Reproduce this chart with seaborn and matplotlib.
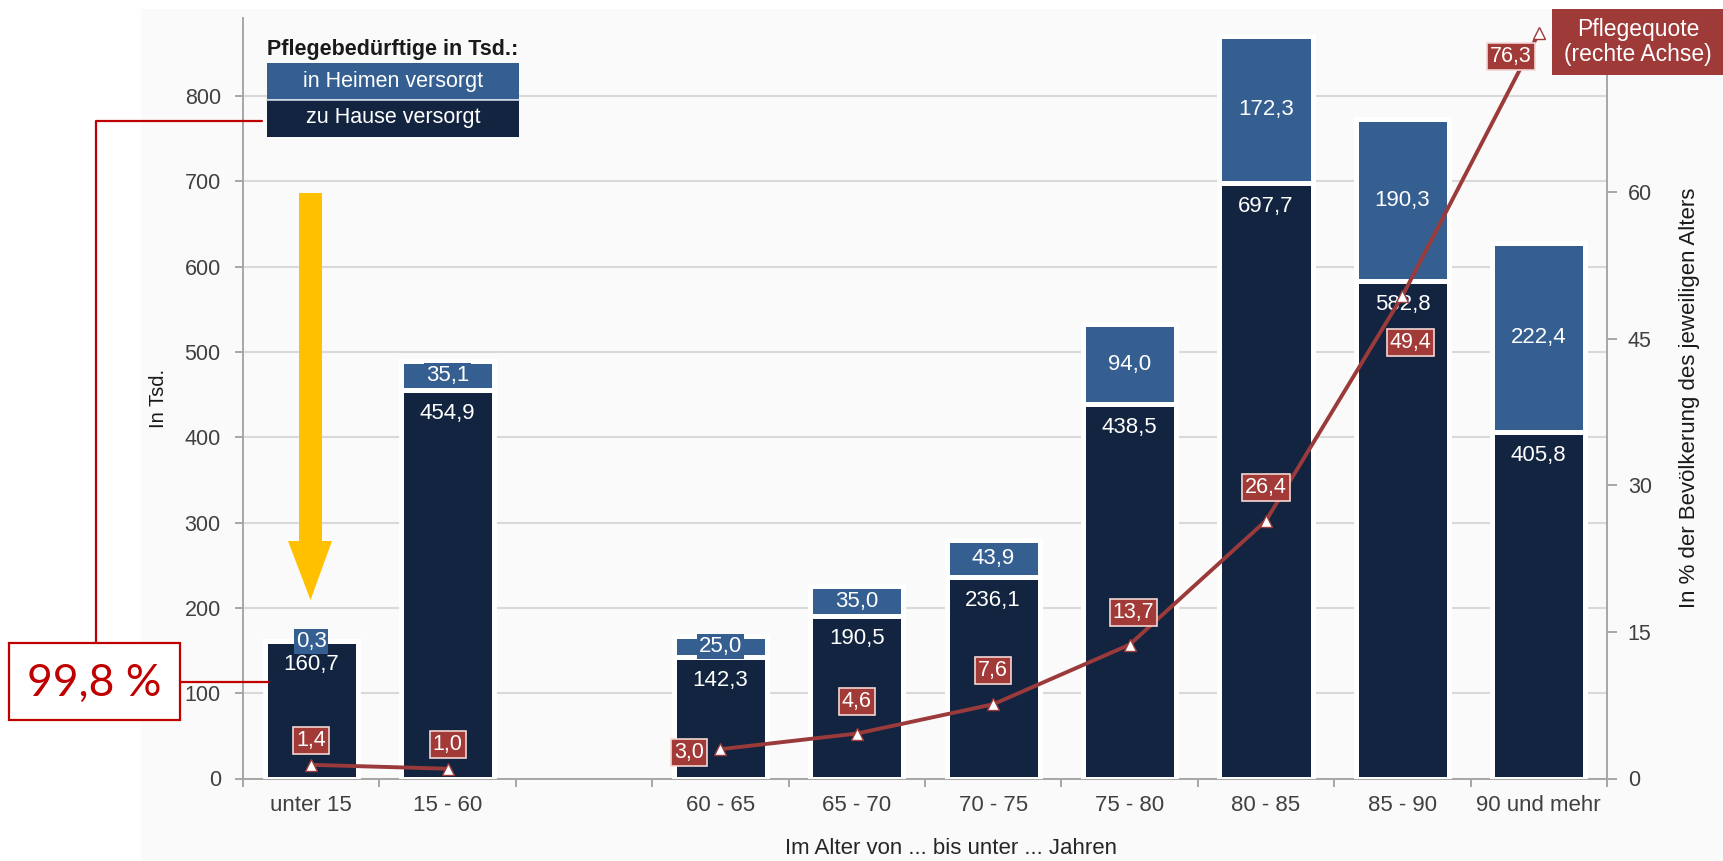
import matplotlib
matplotlib.use("Agg")
import matplotlib.pyplot as plt
import numpy as np
import pandas as pd
import seaborn as sns
from matplotlib.patches import Rectangle, Polygon
from matplotlib.lines import Line2D

# Pflegebedürftige nach Altersgruppen (in Tsd.) und Pflegequote (in %)
altersgruppen = ["unter 15", "15 - 60", "60 - 65", "65 - 70", "70 - 75",
                 "75 - 80", "80 - 85", "85 - 90", "90 und mehr"]
zu_hause = [160.7, 454.9, 142.3, 190.5, 236.1, 438.5, 697.7, 582.8, 405.8]
in_heimen = [0.3, 35.1, 25.0, 35.0, 43.9, 94.0, 172.3, 190.3, 222.4]
pflegequote = [1.4, 1.0, 3.0, 4.6, 7.6, 13.7, 26.4, 49.4, 76.3]
links_ticks = [0, 100, 200, 300, 400, 500, 600, 700, 800]
rechts_ticks = [0, 15, 30, 45, 60]

# Kategorienfolge mit einer Leerstelle zwischen "15 - 60" und "60 - 65"
slots = altersgruppen[:2] + [" "] + altersgruppen[2:]

DARK = "#12243f"
LIGHT = "#365f91"
LINE_RED = "#9b3a3a"
BOX_RED = "#a23a37"
ANNO_RED = "#c00000"
YELLOW = "#ffc000"
TXT = "#404040"

sns.set_theme(style="white")
plt.rcParams["font.family"] = ["Liberation Sans", "DejaVu Sans"]

W, H = 1724, 861
fig = plt.figure(figsize=(W / 100, H / 100), dpi=100)


def fx(x):
    return x / W


def fy(y):
    return 1 - y / H


# dezent grauer Hintergrund der Grafik
fig.patches.append(Rectangle((fx(141), fy(861)), fx(1724 - 141), (861 - 9) / H,
                             transform=fig.transFigure, fc="#fafafa", ec="none", zorder=-5))

ax = fig.add_axes([fx(243), fy(778.5), fx(1607 - 243), (778.5 - 18) / H])
ax.set_facecolor("none")

df = pd.DataFrame({
    "gruppe": altersgruppen,
    "zu_hause": zu_hause,
    "in_heimen": in_heimen,
})
df["gesamt"] = df["zu_hause"] + df["in_heimen"]
pos = {g: slots.index(g) for g in altersgruppen}

bar_kw = dict(order=slots, width=0.682, saturation=1, errorbar=None,
              edgecolor="white", linewidth=3.6, zorder=3, ax=ax)
sns.barplot(data=df, x="gruppe", y="gesamt", color=LIGHT, **bar_kw)
sns.barplot(data=df, x="gruppe", y="zu_hause", color=DARK, **bar_kw)

ax.set_xlim(-0.5, len(slots) - 0.5)
ax.set_ylim(0, 891.5)
ax.set_yticks(links_ticks)
ax.yaxis.grid(True, color="#d9d9d9", lw=1.5)
ax.set_axisbelow(True)
for s in ["top", "right"]:
    ax.spines[s].set_visible(False)
for s in ["left", "bottom"]:
    ax.spines[s].set_color("#a6a6a6")
    ax.spines[s].set_linewidth(1.4)

# Trennstriche zwischen den Kategorien, Beschriftung mittig
ax.set_xticks(np.arange(-0.5, len(slots), 1.0))
ax.set_xticklabels([])
ax.set_xticks(range(len(slots)), minor=True)
ax.set_xticklabels(slots, minor=True)
ax.tick_params(axis="x", which="major", direction="out", length=6, width=1.4,
               color="#a6a6a6", bottom=True)
ax.tick_params(axis="x", which="minor", length=0, pad=12, labelsize=16, labelcolor=TXT)
ax.tick_params(axis="y", direction="out", length=6, width=1.4, color="#a6a6a6",
               left=True, pad=10, labelsize=15.5, labelcolor=TXT)

ax.set_xlabel("Im Alter von ... bis unter ... Jahren", fontsize=16, color="#262626")
ax.xaxis.set_label_coords((951 - 243) / 1364, (778.5 - 838) / 760.5)
ax.set_ylabel("In Tsd.", fontsize=14.5, color="#1a1a1a")
ax.yaxis.set_label_coords(-0.055, 0.50)

# Wertebeschriftungen der Balken
for g, d, h in zip(altersgruppen, zu_hause, in_heimen):
    x = pos[g]
    ax.annotate(f"{d:.1f}".replace(".", ","), xy=(x, d), xytext=(0, -23),
                textcoords="offset pixels", ha="center", va="center",
                color="white", fontsize=16, zorder=5)
    ax.annotate(f"{h:.1f}".replace(".", ","), xy=(x, d + h / 2), xytext=(0, 0),
                textcoords="offset pixels", ha="center", va="center",
                color="white", fontsize=16, zorder=5,
                bbox=dict(boxstyle="square,pad=0.08", fc=LIGHT, ec="none"))

# Pflegequote auf der rechten Achse
ax2 = ax.twinx()
ax2.set_facecolor("none")
xs = [pos[g] for g in altersgruppen]
line_kw = dict(color=LINE_RED, lw=2.8, marker="^", markersize=9,
               markerfacecolor="white", markeredgecolor=LINE_RED,
               markeredgewidth=1.0, ax=ax2, zorder=4)
sns.lineplot(x=xs[:2], y=pflegequote[:2], **line_kw)
sns.lineplot(x=xs[2:], y=pflegequote[2:], **line_kw)
ax2.set_xlim(-0.5, len(slots) - 0.5)
ax2.set_ylim(0, 77.85)
ax2.set_yticks(rechts_ticks)
for s in ["top", "left", "bottom"]:
    ax2.spines[s].set_visible(False)
ax2.spines["right"].set_color("#a6a6a6")
ax2.spines["right"].set_linewidth(1.4)
ax2.tick_params(axis="y", direction="out", length=7, width=1.4, color="#a6a6a6",
                right=True, pad=8, labelsize=15.5, labelcolor=TXT)
ax2.set_ylabel("In % der Bevölkerung des jeweiligen Alters", fontsize=16, color="#1a1a1a")
ax2.yaxis.set_label_coords(1.053, 0.5)

quote_offsets = [(0, 24), (0, 24), (-31, -3), (0, 32), (0, 34),
                 (4, 32), (0, 33), (8, -47), (-28, -23)]
for g, q, (dx, dy) in zip(altersgruppen, pflegequote, quote_offsets):
    ax2.annotate(f"{q:.1f}".replace(".", ","), xy=(pos[g], q), xytext=(dx, dy),
                 textcoords="offset pixels", ha="center", va="center",
                 color="white", fontsize=15.5, zorder=6,
                 bbox=dict(boxstyle="square,pad=0.14", fc=BOX_RED, ec="#f3d6d5", lw=1.2))

# Legende
fig.text(fx(267), fy(49), "Pflegebedürftige in Tsd.:", ha="left", va="center",
         fontsize=15.5, fontweight="bold", color="#1a1a1a")
fig.patches.append(Rectangle((fx(267), fy(99)), fx(252), 36 / H, transform=fig.transFigure,
                             fc=LIGHT, ec="none", zorder=6))
fig.patches.append(Rectangle((fx(267), fy(137)), fx(252), 37 / H, transform=fig.transFigure,
                             fc=DARK, ec="none", zorder=6))
fig.lines.append(Line2D([fx(267), fx(519)], [fy(99.5), fy(99.5)], transform=fig.transFigure,
                        color="#c8d3e2", lw=1.2, zorder=7))
fig.text(fx(393), fy(81), "in Heimen versorgt", ha="center", va="center",
         fontsize=15.5, color="white", zorder=8)
fig.text(fx(393), fy(118), "zu Hause versorgt", ha="center", va="center",
         fontsize=15.5, color="white", zorder=8)

# Hinweis auf die Pflegequote
fig.patches.append(Rectangle((fx(1552), fy(75)), fx(1724 - 1552), 66 / H,
                             transform=fig.transFigure, fc="#9e3b38", ec="none", zorder=6))
fig.text(fx(1638), fy(42), "Pflegequote\n(rechte Achse)", ha="center", va="center",
         fontsize=16.5, color="white", linespacing=1.1, zorder=8)

# gelber Pfeil
arrow_pts = [(299, 193), (322, 193), (322, 541), (332, 541), (310.5, 600),
             (288, 541), (299, 541)]
fig.patches.append(Polygon([(fx(x), fy(y)) for x, y in arrow_pts], closed=True,
                           transform=fig.transFigure, fc=YELLOW, ec="none", zorder=6))

# Anteil-Kasten mit Verbindungslinien
fig.lines.append(Line2D([fx(180), fx(269)], [fy(682), fy(682)], transform=fig.transFigure,
                        color=ANNO_RED, lw=1.6, zorder=7))
fig.lines.append(Line2D([fx(96), fx(96), fx(262)], [fy(643), fy(121), fy(121)],
                        transform=fig.transFigure, color=ANNO_RED, lw=1.6, zorder=7))
fig.patches.append(Rectangle((fx(9), fy(720)), fx(171), 77 / H, transform=fig.transFigure,
                             fc="white", ec=ANNO_RED, lw=1.6, zorder=7))
fig.text(fx(94.5), fy(683), "99,8 %", ha="center", va="center", fontsize=32,
         color=ANNO_RED, family=["Lato", "DejaVu Sans"], zorder=8)

fig.savefig("out.png", dpi=100)
